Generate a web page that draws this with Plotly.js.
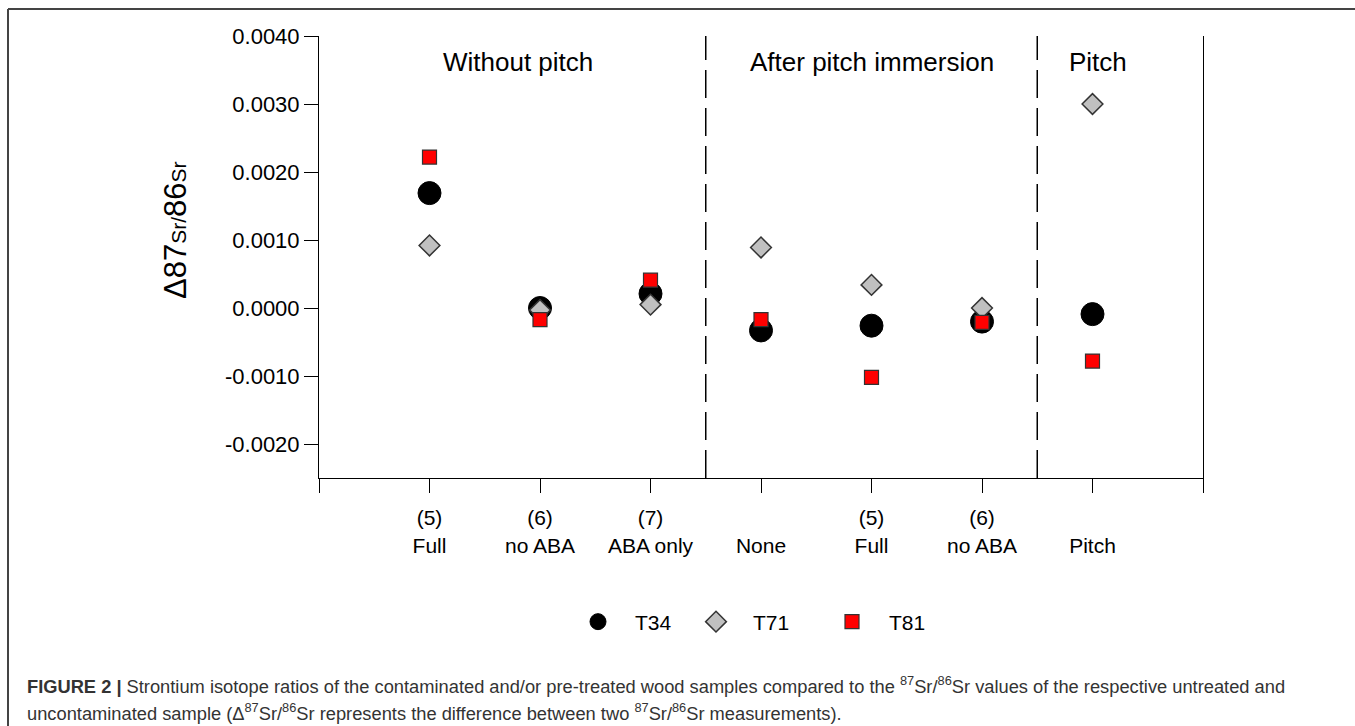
<!DOCTYPE html>
<html>
<head>
<meta charset="utf-8">
<script src="https://cdn.plot.ly/plotly-3.0.1.min.js"></script>
<style>html,body{margin:0;padding:0;background:#fff;}#chart{width:1355px;height:726px;}</style>
</head>
<body>
<div id="chart"></div>
<script>
// ---- data ----
const categories = ["(5)<br>Full", "(6)<br>no ABA", "(7)<br>ABA only", " <br>None", "(5)<br>Full", "(6)<br>no ABA", " <br>Pitch"];
const T34 = [0.00169, 0.00000, 0.00021, -0.00033, -0.00026, -0.00020, -0.00009];
const T71 = [0.00092, -0.00003, 0.00005, 0.00089, 0.00034, 0.00000, 0.00300];
const T81 = [0.00222, -0.00017, 0.00041, -0.00017, -0.00102, -0.00021, -0.00078];
const seriesNames = ["T34", "T71", "T81"];
const sections = ["Without pitch", "After pitch immersion", "Pitch"];
const sectionCenters = [1.8, 5.0, 7.05];
const sectionDividers = [3.5, 6.5];
const yTickVals = [-0.002, -0.001, 0, 0.001, 0.002, 0.003, 0.004];
const yTickText = ["-0.0020", "-0.0010", "0.0000", "0.0010", "0.0020", "0.0030", "0.0040"];

// ---- build ----
const xs = categories.map((c, i) => i + 1);
const FONT = "Arial, 'Liberation Sans', sans-serif";

const traces = [
  {x: xs, y: T34, name: seriesNames[0], type: "scatter", mode: "markers", legend: "legend",
   marker: {symbol: "circle", size: 23, color: "#000000", line: {color: "#000000", width: 1}}},
  {x: xs, y: T71, name: seriesNames[1], type: "scatter", mode: "markers", legend: "legend2",
   marker: {symbol: "diamond", size: 16, color: "#c0c0c0", line: {color: "#333333", width: 1.5}}},
  {x: xs, y: T81, name: seriesNames[2], type: "scatter", mode: "markers", legend: "legend3",
   marker: {symbol: "square", size: 14, color: "#ff0000", line: {color: "#333333", width: 1.2}}}
];

const W = 1355, H = 726, L = 319, R = 152, T = 36, B = 248;
const pw = W - L - R, ph = H - T - B;
const px = v => (v - L) / pw;
const py = v => (H - B - v) / ph;

const shapes = sectionDividers.map(d => ({
  type: "line", xref: "x", yref: "paper", x0: d, x1: d, y0: 0, y1: 1,
  line: {color: "#000", width: 1.5, dash: "28px,10px"}
}));
// figure frame (top and left)
shapes.push({type: "line", xref: "paper", yref: "paper", x0: px(8), x1: px(1356), y0: py(9), y1: py(9), line: {color: "#444", width: 2}});
shapes.push({type: "line", xref: "paper", yref: "paper", x0: px(8), x1: px(8), y0: py(9), y1: py(727), line: {color: "#444", width: 2}});

const annotations = sections.map((s, i) => ({
  text: s, x: sectionCenters[i], xref: "x", y: py(62), yref: "paper",
  xanchor: "center", yanchor: "middle", showarrow: false,
  font: {family: FONT, size: 26, color: "#000"}
}));
annotations.push({
  text: "<span style='font-size:31px'>Δ87</span>Sr/<span style='font-size:31px'>86</span>Sr",
  x: px(175), xref: "paper", y: py(230), yref: "paper", textangle: -90,
  xanchor: "center", yanchor: "middle", showarrow: false,
  font: {family: FONT, size: 21, color: "#000"}
});
annotations.push({
  text: "<b>FIGURE 2 |</b> Strontium isotope ratios of the contaminated and/or pre-treated wood samples compared to the <sup>87</sup>Sr/<sup>86</sup>Sr values of the respective untreated and",
  x: px(25), xref: "paper", y: py(685), yref: "paper", xanchor: "left", yanchor: "middle",
  showarrow: false, align: "left", font: {family: FONT, size: 18.3, color: "#333"}
});
annotations.push({
  text: "uncontaminated sample (Δ<sup>87</sup>Sr/<sup>86</sup>Sr represents the difference between two <sup>87</sup>Sr/<sup>86</sup>Sr measurements).",
  x: px(25), xref: "paper", y: py(712), yref: "paper", xanchor: "left", yanchor: "middle",
  showarrow: false, align: "left", font: {family: FONT, size: 18.3, color: "#333"}
});

const legendBase = {orientation: "h", yanchor: "middle", xanchor: "left", y: py(622), itemwidth: 64,
  font: {family: FONT, size: 21, color: "#000"}, bgcolor: "rgba(0,0,0,0)", borderwidth: 0};

const layout = {
  width: W, height: H,
  margin: {l: L, r: R, t: T, b: B, pad: 0},
  paper_bgcolor: "#fff", plot_bgcolor: "#fff",
  font: {family: FONT, color: "#000"},
  showlegend: true,
  legend: Object.assign({}, legendBase, {x: px(561)}),
  legend2: Object.assign({}, legendBase, {x: px(679)}),
  legend3: Object.assign({}, legendBase, {x: px(815)}),
  xaxis: {
    range: [0, 8], tickmode: "array", tickvals: [0].concat(xs, [8]),
    ticktext: [""].concat(categories, [""]),
    showline: true, linecolor: "#000", linewidth: 1, ticks: "outside", ticklen: 14, tickwidth: 1, tickcolor: "#000",
    ticklabelstandoff: 7,
    showgrid: false, zeroline: false, automargin: false, fixedrange: true,
    tickfont: {family: FONT, size: 21, color: "#000"}
  },
  yaxis: {
    range: [-0.0025, 0.0040], tickmode: "array", tickvals: yTickVals, ticktext: yTickText,
    showline: true, mirror: true, linecolor: "#000", linewidth: 1, ticks: "outside", ticklen: 14, tickwidth: 1, tickcolor: "#000",
    showgrid: false, zeroline: false, automargin: false, fixedrange: true,
    tickfont: {family: FONT, size: 22, color: "#000"}
  },
  shapes: shapes,
  annotations: annotations
};

Plotly.newPlot("chart", traces, layout, {displayModeBar: false, staticPlot: true});
</script>
</body>
</html>
